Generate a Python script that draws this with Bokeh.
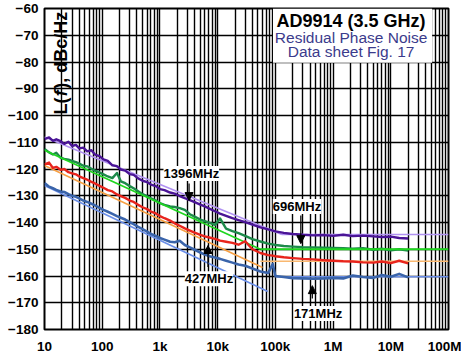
import math
from bokeh.plotting import figure
from bokeh.models import FixedTicker, Label, Arrow, NormalHead, Range1d
from bokeh.embed import file_html
from bokeh.resources import INLINE

# ---------------- data ----------------
freq_hz = [10, 12, 14, 16, 19, 22, 26, 30, 35, 40, 47, 55, 65, 75, 90, 105, 125, 150, 180, 210,
           250, 300, 350, 420, 500, 600, 700, 850, 1000, 1200, 1500, 1800, 2200, 2700, 3300, 4000,
           5000, 6000, 7500, 9000, 11000, 14000, 18000, 23000, 30000, 40000, 55000, 75000, 90000,
           100000, 140000, 200000, 300000, 450000, 700000, 1e6, 1.5e6, 2.2e6, 3.3e6, 5e6, 7e6,
           1e7, 1.4e7, 2e7]

pn_1396mhz = [-108.8, -108.2, -109.5, -108.9, -109.6, -110.6, -109.8, -111.4, -111.0, -112.3, -112.0,
              -113.4, -113.0, -114.6, -115.2, -116.4, -117.0, -118.6, -118.9, -120.2, -120.6, -121.9,
              -122.2, -123.5, -124.4, -124.9, -125.8, -126.4, -127.5, -127.9, -128.8, -129.2, -130.1,
              -130.9, -131.6, -132.4, -133.3, -134.0, -135.0, -135.8, -136.7, -137.5, -138.4, -139.1,
              -139.9, -140.8, -141.8, -142.6, -143.0, -143.3, -143.9, -144.3, -144.6, -144.8, -144.7,
              -145.0, -144.6, -145.1, -144.9, -145.2, -145.4, -145.3, -145.8, -146.0]

pn_696mhz = [-112.5, -113.8, -114.6, -113.9, -115.8, -116.2, -116.5, -117.0, -117.4, -118.0, -118.8,
             -119.0, -119.9, -120.6, -121.3, -122.0, -122.8, -123.4, -121.5, -124.6, -125.3, -126.4,
             -127.2, -128.3, -129.4, -130.2, -131.0, -131.8, -132.8, -133.4, -134.0, -134.2, -134.6,
             -135.3, -136.9, -137.8, -138.9, -139.5, -140.2, -140.9, -138.5, -142.3, -143.2, -144.0,
             -145.0, -146.2, -147.1, -147.9, -148.2, -148.4, -148.8, -149.0, -149.2, -149.3, -149.4,
             -149.5, -149.6, -149.8, -149.6, -150.2, -149.8, -150.4, -150.0, -150.5]

pn_427mhz = [-118.3, -117.6, -119.6, -119.2, -120.3, -120.0, -121.2, -121.6, -122.0, -122.8, -123.4,
             -124.0, -124.8, -125.4, -126.3, -127.0, -127.9, -128.4, -129.5, -130.1, -130.8, -131.8,
             -132.3, -133.4, -134.3, -135.0, -135.9, -136.6, -137.6, -138.4, -139.3, -140.3, -141.2,
             -142.2, -143.0, -143.8, -144.6, -145.2, -145.7, -146.1, -146.8, -147.2, -147.6, -148.3,
             -147.0, -150.0, -151.4, -152.2, -152.4, -152.6, -153.0, -153.3, -153.6, -153.8, -154.1,
             -154.3, -154.5, -154.6, -154.9, -155.0, -154.6, -155.2, -154.3, -155.3]

pn_171mhz = [-125.2, -126.6, -127.2, -127.8, -128.4, -128.6, -129.4, -130.0, -130.4, -131.0, -131.8,
             -132.3, -133.0, -133.6, -134.5, -135.3, -136.0, -136.8, -137.6, -138.2, -138.9, -139.9,
             -140.6, -141.6, -142.5, -143.4, -144.3, -145.0, -145.8, -146.4, -147.2, -147.4, -146.8,
             -148.4, -149.3, -150.2, -151.2, -152.0, -152.7, -153.1, -153.6, -154.3, -155.0, -155.7,
             -156.2, -157.2, -158.3, -158.9, -155.5, -160.0, -160.4, -160.8, -160.9, -161.0, -160.9,
             -160.7, -160.9, -159.8, -160.4, -160.7, -159.6, -160.3, -159.2, -160.5]

# fitted asymptotes: (1/f slope segment, floor segment)
fit_1396_slope_f, fit_1396_slope_db = [10, 1.3e5], [-108.0, -144.5]
fit_1396_floor_f, fit_1396_floor_db = [1.3e5, 1e8], [-144.5, -144.5]
fit_696_slope_f, fit_696_slope_db = [10, 5.5e4], [-113.0, -150.0]
fit_696_floor_f, fit_696_floor_db = [5.5e4, 1e8], [-150.0, -150.0]
fit_427_slope_f, fit_427_slope_db = [10, 6e4], [-118.7, -156.8]
fit_427_floor_f, fit_427_floor_db = [5.5e4, 1e8], [-154.5, -154.5]
fit_171_slope_f, fit_171_slope_db = [10, 7.4e4], [-126.2, -165.8]
fit_171_floor_f, fit_171_floor_db = [1e5, 1e8], [-160.3, -160.3]

x_ticks = [10, 100, 1e3, 1e4, 1e5, 1e6, 1e7, 1e8]
x_tick_labels = ["10", "100", "1k", "10k", "100k", "1M", "10M", "100M"]
y_ticks = list(range(-180, -59, 10))
y_tick_labels = ["\u2212" + str(-v) for v in y_ticks]

# ---------------- figure ----------------
FONT = "Liberation Sans"
p = figure(width=461, height=356, x_axis_type="log",
           x_range=Range1d(10, 1e8), y_range=Range1d(-180, -60),
           output_backend="svg", toolbar_location=None,
           min_border_left=44, min_border_right=13, min_border_top=8, min_border_bottom=27)
p.background_fill_color = "white"
p.border_fill_color = "white"
p.outline_line_color = "black"
p.outline_line_width = 2

p.xaxis.ticker = FixedTicker(ticks=x_ticks)
p.xaxis.major_label_overrides = {t: l for t, l in zip(x_ticks, x_tick_labels)}
p.yaxis.ticker = FixedTicker(ticks=y_ticks)
p.yaxis.major_label_overrides = {t: l for t, l in zip(y_ticks, y_tick_labels)}
for ax in (p.xaxis, p.yaxis):
    ax.major_label_text_font = FONT
    ax.major_label_text_font_style = "bold"
    ax.major_label_text_font_size = "13.5px"
    ax.major_label_text_color = "black"
    ax.axis_line_color = None
    ax.major_tick_line_color = None
    ax.minor_tick_line_color = None
    ax.major_tick_out = 0
    ax.major_tick_in = 0
    ax.minor_tick_out = 0
p.xaxis.major_label_standoff = 9
p.yaxis.major_label_standoff = 6

grid_x = [m * 10 ** k for k in range(1, 8) for m in range(1, 10)] + [1e8]
p.xgrid.ticker = FixedTicker(ticks=grid_x)
p.ygrid.ticker = FixedTicker(ticks=y_ticks)
for g in (p.xgrid, p.ygrid):
    g.grid_line_color = "black"
    g.grid_line_width = 1.4
    g.grid_line_alpha = 1.0

# ---------------- curves ----------------
p.line(fit_1396_slope_f, fit_1396_slope_db, line_color="#b192f2", line_width=1.6)
p.line(fit_1396_floor_f, fit_1396_floor_db, line_color="#b192f2", line_width=1.6)
p.line(freq_hz, pn_1396mhz, line_color="#4a1496", line_width=2.4, line_join="round")
p.line(freq_hz, pn_696mhz, line_color="#1d8a4a", line_width=2.4, line_join="round")
p.line(fit_696_slope_f, fit_696_slope_db, line_color="#1fd61f", line_width=1.8)
p.line(fit_696_floor_f, fit_696_floor_db, line_color="#1fd61f", line_width=2.0)
p.line(fit_427_slope_f, fit_427_slope_db, line_color="#f7a044", line_width=1.6)
p.line(fit_427_floor_f, fit_427_floor_db, line_color="#f9b870", line_width=1.6)
p.line(freq_hz, pn_427mhz, line_color="#e8241c", line_width=2.4, line_join="round")
p.line(fit_171_slope_f, fit_171_slope_db, line_color="#6a8ee8", line_width=1.6)
p.line(fit_171_floor_f, fit_171_floor_db, line_color="#6a8ee8", line_width=1.6)
p.line(freq_hz, pn_171mhz, line_color="#3a64aa", line_width=2.6, line_join="round")

# ---------------- title box ----------------
p.quad(left=[9.1e4], right=[5.2e7], top=[-60.0], bottom=[-80.3],
       fill_color="white", line_color=None)
p.add_layout(Label(x=2.05e6, y=-64.6, text="AD9914 (3.5 GHz)", text_font=FONT,
                   text_font_style="bold", text_font_size="18px", text_color="black",
                   text_align="center", text_baseline="middle"))
p.add_layout(Label(x=2.05e6, y=-70.9, text="Residual Phase Noise", text_font=FONT,
                   text_font_size="15.5px", text_color="#3b3b8c",
                   text_align="center", text_baseline="middle"))
p.add_layout(Label(x=2.05e6, y=-76.2, text="Data sheet Fig. 17", text_font=FONT,
                   text_font_size="15.5px", text_color="#3b3b8c",
                   text_align="center", text_baseline="middle"))

# ---------------- y-axis title inside plot ----------------
for txt, yy, style in [("L(", -99.6, "bold"), ("f", -92.8, "bold italic"), ("), dBc/Hz", -90.0, "bold")]:
    p.add_layout(Label(x=19, y=yy, text=txt, angle=math.pi / 2, angle_units="rad",
                       text_font=FONT, text_font_style=style, text_font_size="18px",
                       text_color="black", text_align="left", text_baseline="middle"))

# ---------------- frequency annotations ----------------
annotations = [
    ("1396MHz", 3.5e3, -121.7, 3.2e3, -125.4, -131.8),
    ("696MHz", 2.37e5, -134.0, 2.76e5, -137.4, -147.9),
    ("427MHz", 7.1e3, -161.0, 6.8e3, -156.6, -148.6),
    ("171MHz", 5.5e5, -174.0, 4.37e5, -168.4, -163.6),
]
for txt, lx, ly, ax_, ay0, ay1 in annotations:
    p.add_layout(Arrow(x_start=ax_, y_start=ay0, x_end=ax_, y_end=ay1, line_width=1.2,
                       line_color="black",
                       end=NormalHead(size=8, fill_color="black", line_color="black")))
    p.add_layout(Label(x=lx, y=ly, text=txt, text_font=FONT, text_font_style="bold",
                       text_font_size="13px", text_color="black",
                       background_fill_color="white", background_fill_alpha=1.0,
                       text_align="center", text_baseline="middle"))

open("out.html", "w").write(file_html(p, INLINE))
